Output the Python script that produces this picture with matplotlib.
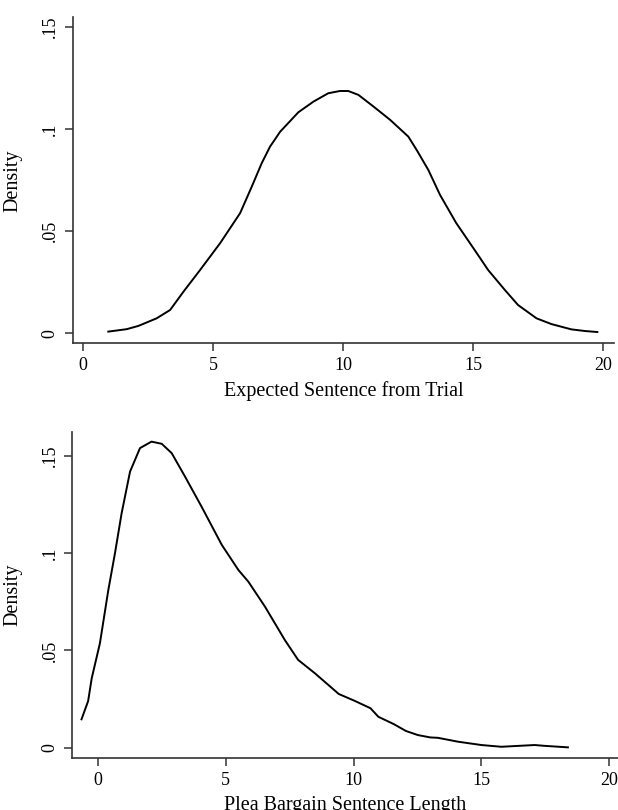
import matplotlib
matplotlib.use("Agg")
import matplotlib.pyplot as plt

plt.rcParams['font.family'] = ['Liberation Serif', 'DejaVu Serif']

# Densidad de la condena esperada en juicio
trial_x = [0.97, 1.68, 2.13, 2.83, 3.35, 3.86, 4.5, 5.27, 6.04, 6.49, 6.87, 7.19,
           7.58, 8.28, 8.86, 9.43, 9.88, 10.2, 10.59, 11.17, 11.81, 12.51, 12.83,
           13.28, 13.73, 14.35, 15.06, 15.58, 16.22, 16.73, 17.44, 18.01, 18.78,
           19.3, 19.78]
trial_y = [0.0009, 0.0021, 0.0037, 0.0074, 0.0115, 0.0204, 0.031, 0.0441, 0.0588,
           0.0718, 0.0832, 0.0913, 0.0986, 0.1081, 0.1133, 0.1174, 0.1185, 0.1185,
           0.1166, 0.1109, 0.1044, 0.0962, 0.0897, 0.0799, 0.0677, 0.054, 0.0408,
           0.031, 0.0213, 0.0139, 0.0074, 0.0046, 0.002, 0.0012, 0.0007]

# Densidad de la condena negociada
plea_x = [-0.65, -0.39, -0.25, 0.07, 0.40, 0.66, 0.92, 1.25, 1.64, 2.09, 2.49, 2.88,
          3.40, 4.05, 4.84, 5.49, 5.88, 6.53, 7.31, 7.83, 8.49, 9.42, 10.04, 10.66,
          10.97, 11.58, 12.05, 12.52, 13.0, 13.3, 14.09, 15.0, 15.78, 16.22, 17.09,
          17.45, 18.39]
plea_y = [0.0146, 0.024, 0.0357, 0.0536, 0.081, 0.0999, 0.1204, 0.1418, 0.1539,
          0.1572, 0.1561, 0.1513, 0.1393, 0.1238, 0.1042, 0.0913, 0.0853, 0.0725,
          0.0553, 0.0451, 0.0382, 0.0276, 0.0241, 0.0203, 0.0159, 0.0121, 0.0086,
          0.0065, 0.0053, 0.0051, 0.0031, 0.0014, 0.0005, 0.0008, 0.0014, 0.001,
          0.0002]

x_ticks = [0, 5, 10, 15, 20]
y_ticks = [0, 0.05, 0.1, 0.15]
y_labels = ['0', '.05', '.1', '.15']

fig = plt.figure(figsize=(6.18, 8.10), dpi=100)
ax1 = fig.add_axes([0.1176, 0.5762, 0.8759, 0.4024])
ax2 = fig.add_axes([0.117, 0.0646, 0.883, 0.4017])


def estilo(ax, xlabel, xlim, ylim):
    ax.set_xlim(*xlim)
    ax.set_ylim(*ylim)
    for lado in ['top', 'right']:
        ax.spines[lado].set_visible(False)
    for lado in ['left', 'bottom']:
        ax.spines[lado].set_linewidth(1.2)
        ax.spines[lado].set_color('#333333')
    ax.set_xticks(x_ticks)
    ax.set_yticks(y_ticks)
    ax.set_yticklabels(y_labels, rotation=90, va='center')
    ax.tick_params(axis='both', length=6, width=1.1, color='#333333',
                   labelsize=13, pad=4)
    ax.set_xlabel(xlabel, fontsize=14.5, labelpad=5)
    ax.set_ylabel('Density', fontsize=14.5, labelpad=14)


ax1.plot(trial_x, trial_y, color='black', linewidth=1.4)
estilo(ax1, 'Expected Sentence from Trial', (-0.40, 20.42), (-0.0048, 0.1545))

ax2.plot(plea_x, plea_y, color='black', linewidth=1.4)
estilo(ax2, 'Plea Bargain Sentence Length', (-1.01, 20.35), (-0.0051, 0.162))

fig.savefig('out.png', dpi=100)
